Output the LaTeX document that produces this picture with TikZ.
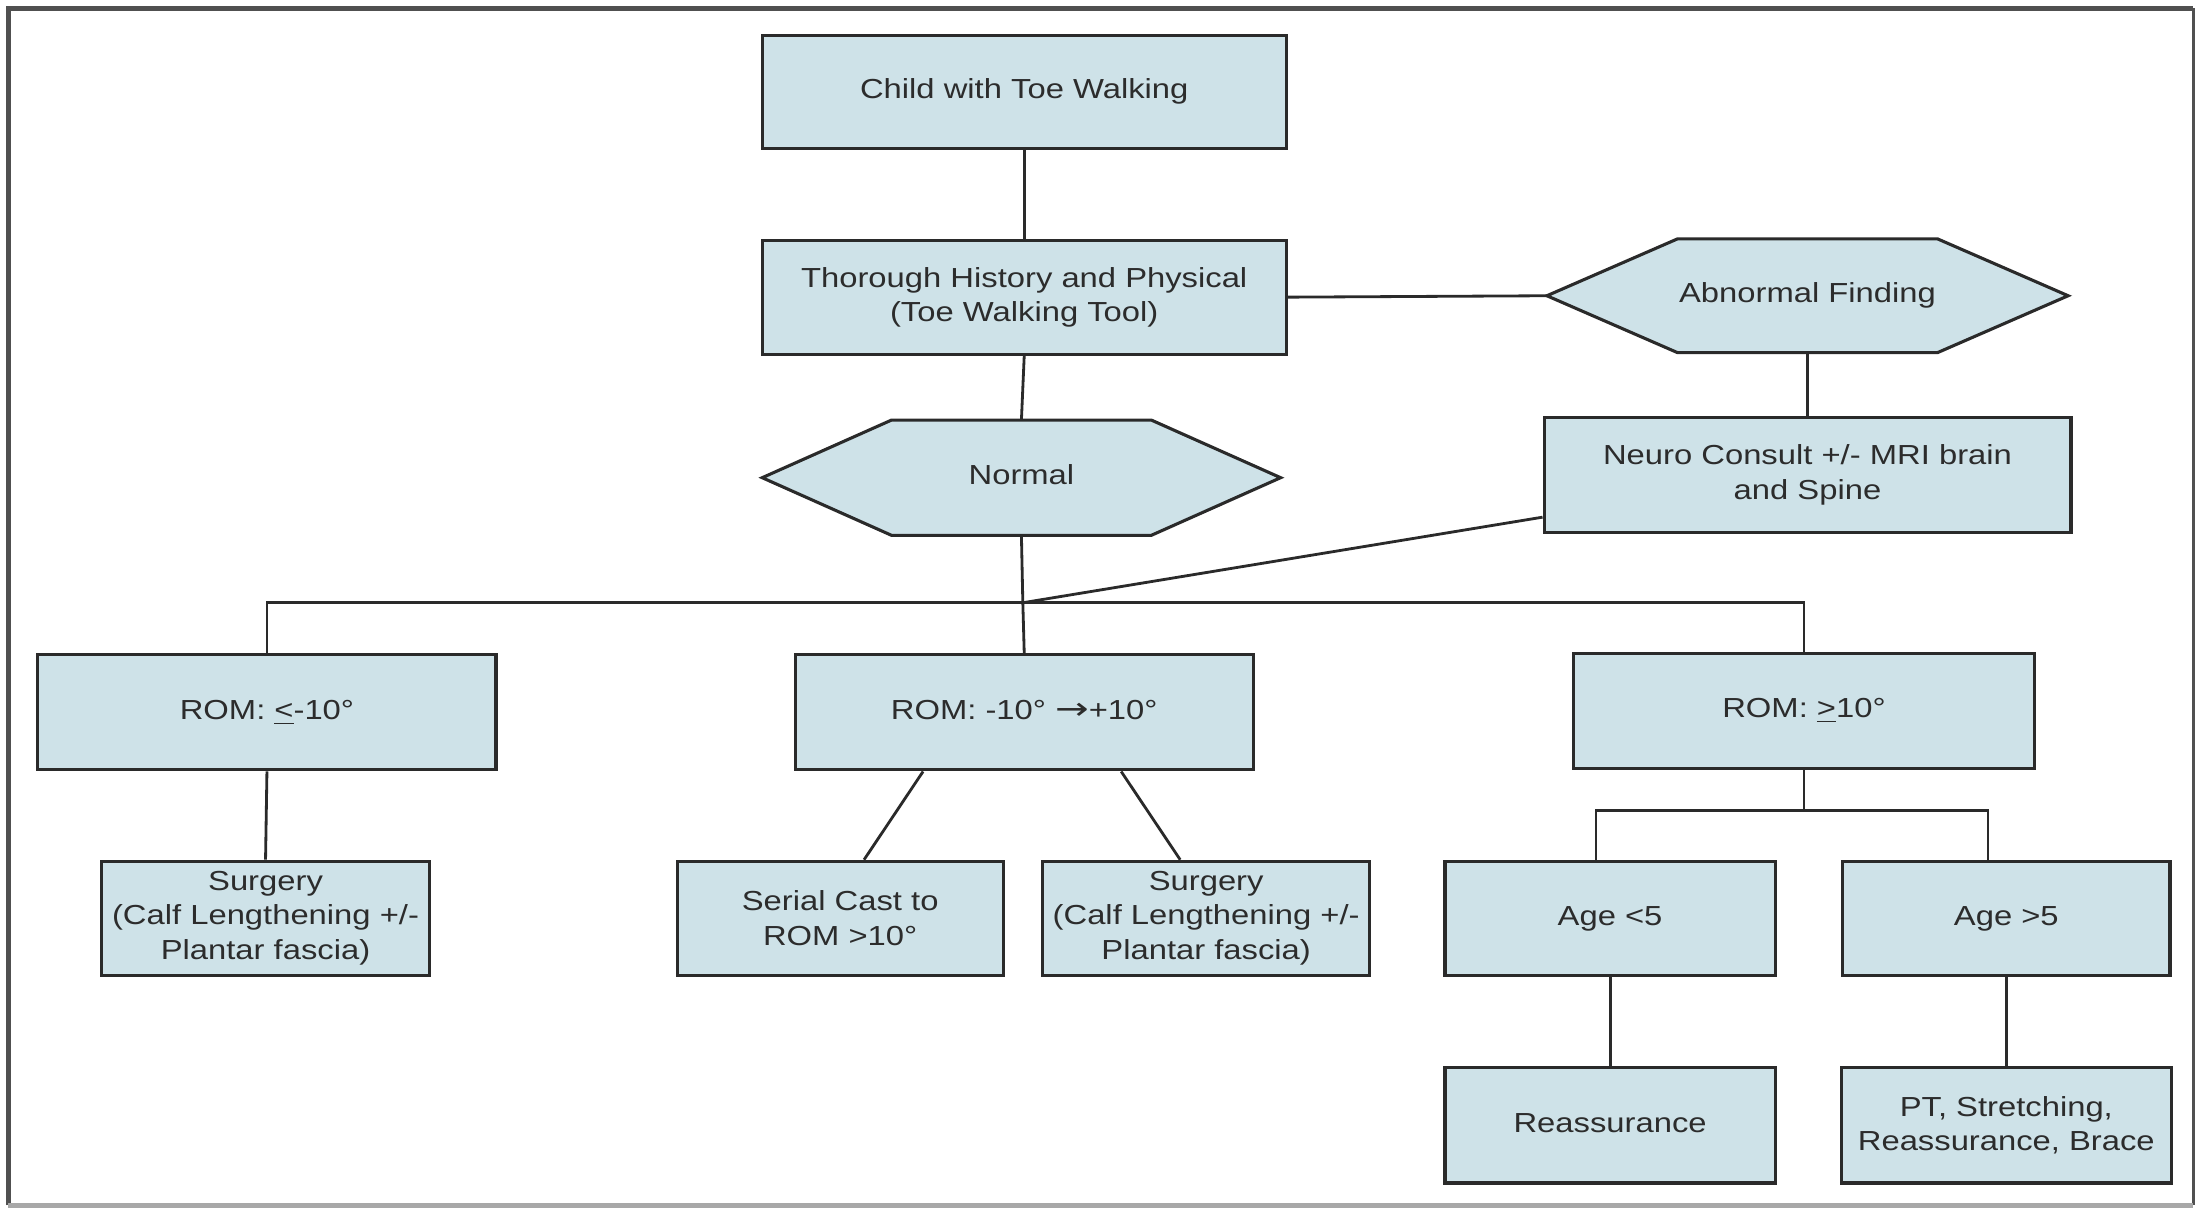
\documentclass[tikz,border=0pt]{standalone}
\usepackage{fontspec}
\setmainfont{Liberation Sans}[FakeStretch=1.19]
\newfontfamily\arrowfont{DejaVu Sans}[FakeStretch=1.3]
\usetikzlibrary{calc}
\pgfdeclarelayer{background}
\pgfsetlayers{background,main}
\definecolor{boxfill}{HTML}{CEE2E8}
\definecolor{edge}{HTML}{2A2A2A}
\definecolor{ink}{HTML}{2C2C2C}
\definecolor{framedark}{HTML}{505050}
\definecolor{framelight}{HTML}{A8A8A8}
\begin{document}
\begin{tikzpicture}[x=0.5pt,y=-0.5pt,
  lbl/.style={text=ink, align=center, inner sep=0pt,
              font=\fontsize{9.8}{12.25}\selectfont},
  box/.style={lbl, draw=edge, fill=boxfill, line width=1.1pt},
  hexbox/.style={lbl, outer sep=0pt},
  link/.style={draw=edge, line width=1pt},
  ]
\useasboundingbox (0,0) rectangle (1568,862);

% outer frame
\draw[framedark, line width=1.6pt] (6,858) -- (6,6) -- (1561,6);
\draw[framedark, line width=1.2pt] (1561,6) -- (1561,858);
\draw[framelight, line width=2pt] (6,858) -- (1561,858);

% top of the tree
\node[box, minimum width=186.5pt, minimum height=40.5pt] (child) at (729,65.5) {\strut Child with Toe Walking};
\node[box, minimum width=186.5pt, minimum height=40.5pt] (hist) at (729,211.5) {Thorough History and Physical\\(Toe Walking Tool)};
\node[hexbox, minimum width=185.5pt, minimum height=40.5pt] (abn) at (1286.5,210.5) {\strut Abnormal Finding};
\node[hexbox, minimum width=184.5pt, minimum height=41pt] (norm) at (727,340) {\strut Normal};
\node[box, minimum width=187.5pt, minimum height=41pt] (neuro) at (1286.5,338) {Neuro Consult +/- MRI brain\\and Spine};

% range of motion
\node[box, minimum width=163pt, minimum height=41pt] (rom1) at (190,507) {\strut ROM: \underline{<}-10°};
\node[box, minimum width=163pt, minimum height=41pt] (rom2) at (729,507) {\strut ROM: -10° {\arrowfont\fontsize{11}{12}\selectfont →}+10°};
\node[box, minimum width=164pt, minimum height=41pt] (rom3) at (1284,506) {\strut ROM: \underline{>}10°};

% treatments
\node[box, minimum width=116.5pt, minimum height=40.5pt] (surg1) at (189,653.5) {Surgery\\(Calf Lengthening +/-\\Plantar fascia)};
\node[box, minimum width=116pt, minimum height=40.5pt] (cast) at (598,653.5) {Serial Cast to\\ROM >10°};
\node[box, minimum width=116.5pt, minimum height=40.5pt] (surg2) at (858.5,653.5) {Surgery\\(Calf Lengthening +/-\\Plantar fascia)};
\node[box, minimum width=117.5pt, minimum height=40.5pt] (age1) at (1146,653.5) {\strut Age <5};
\node[box, minimum width=116.5pt, minimum height=40.5pt] (age2) at (1428,653.5) {\strut Age >5};
\node[box, minimum width=117.5pt, minimum height=41pt] (reas) at (1146,801) {\strut Reassurance};
\node[box, minimum width=117.5pt, minimum height=41pt] (pt) at (1428,801) {PT, Stretching,\\Reassurance, Brace};

% hexagonal decision shapes behind their labels
\begin{pgfonlayer}{background}
\foreach \h/\d in {abn/46.5pt, norm/46pt} {
  \filldraw[fill=boxfill, draw=edge, line width=1.1pt, line join=miter]
    (\h.west) -- ([xshift=\d]\h.north west) -- ([xshift=-\d]\h.north east)
    -- (\h.east) -- ([xshift=-\d]\h.south east) -- ([xshift=\d]\h.south west) -- cycle;
}
\end{pgfonlayer}

% junction points
\coordinate (j) at (728,429);
\coordinate (b1) at (1136,577);
\coordinate (b2) at (1415,577);

% connectors
\draw[link] (child.south) -- (hist.north);
\draw[link] (hist.east) -- (abn.west);
\draw[link] (hist.south) -- (norm.north);
\draw[link] (abn.south) -- (neuro.north);
\draw[link] (norm.south) -- (j);
\draw[link] ([yshift=6pt]neuro.south west) -- (j);
\draw[link] (rom1.north) -- (rom1.north |- j) -- (rom3.north |- j) -- (rom3.north);
\draw[link] (j) -- (rom2.north);
\draw[link] (rom1.south) -- (surg1.north);
\draw[link] ([xshift=-36pt]rom2.south) -- ([xshift=8.5pt]cast.north);
\draw[link] ([xshift=34.5pt]rom2.south) -- ([xshift=-9.25pt]surg2.north);
\draw[link] (rom3.south) -- (rom3.south |- b1);
\draw[link] (age1.north -| b1) -- (b1) -- (b2) -- (age2.north -| b2);
\draw[link] (age1.south) -- (reas.north);
\draw[link] (age2.south) -- (pt.north);
\end{tikzpicture}
\end{document}
